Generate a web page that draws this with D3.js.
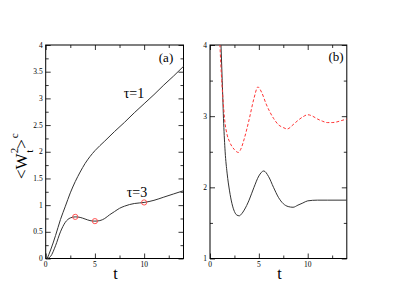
<!DOCTYPE html>
<html><head><meta charset="utf-8">
<script src="https://cdn.jsdelivr.net/npm/d3@7"></script>
<style>body{margin:0;background:#fff}svg{display:block}</style>
</head><body><svg id="c" width="393" height="304" font-family="'Liberation Serif', 'DejaVu Serif', serif"></svg>
<script>
// Panel (a)
const tA = [0.15,0.5,1,1.5,2,2.5,3,3.5,4,4.5,5,6,7,8,9,10,11,12,13,14];
const tau1 = [0,0.16,0.43,0.73,0.98,1.23,1.44,1.62,1.78,1.91,2.02,2.2,2.38,2.55,2.73,2.9,3.07,3.25,3.42,3.6];
const tA3 = [0.15,0.5,1,1.5,2,2.5,3,3.5,4,4.5,5,5.5,6,6.5,7,7.5,8,8.5,9,10,11,12,13,14];
const tau3 = [0,0.04,0.24,0.5,0.68,0.76,0.78,0.77,0.74,0.71,0.70,0.71,0.75,0.82,0.88,0.94,0.98,1.01,1.03,1.05,1.09,1.15,1.21,1.27];
const markT = [3,5,10];
const markV = [0.78,0.70,1.05];
// Panel (b)
const tB1 = [0.9,1.1,1.25,1.4,1.55,1.75,2,2.25,2.5,2.75,3,3.25,3.5,4,4.5,5,5.5,6,6.5,7,7.5,8,8.5,9,9.5,10,11,12,13,14];
const solidB = [4.9,4.1,3.5,2.9,2.5,2.2,1.95,1.77,1.66,1.61,1.60,1.63,1.68,1.82,2.0,2.16,2.23,2.15,2.0,1.86,1.77,1.73,1.72,1.75,1.78,1.81,1.82,1.82,1.82,1.82];
const tB2 = [0.85,1.0,1.1,1.2,1.35,1.5,1.75,2,2.5,2.9,3.25,3.5,4,4.5,4.9,5.3,5.75,6.5,7,7.5,7.9,8.5,9,9.5,10,10.5,11,11.5,12,12.5,13,13.5,14];
const dashB = [4.5,4.05,3.75,3.5,3.2,2.95,2.74,2.64,2.53,2.49,2.57,2.68,2.95,3.25,3.41,3.33,3.17,2.97,2.88,2.84,2.82,2.88,2.94,2.99,3.02,3.0,2.96,2.93,2.91,2.91,2.92,2.94,2.96];
const aYTicks = [0,0.5,1,1.5,2,2.5,3,3.5,4];
const aYLabels = ["0","0.5","1","1.5","2","2.5","3","3.5","4"];
const bYTicks = [1,2,3,4];
const bYLabels = ["1","2","3","4"];
const xTicks = [0,5,10];
const xLabels = ["0","5","10"];

const svg = d3.select("#c");
const plotTop = 45, plotBottom = 258.5;
const serif = "'Liberation Serif', 'DejaVu Serif', serif";

function panel(x0, x1, yDom, majorY, minorY, yLabels, id) {
  const x = d3.scaleLinear().domain([0,14]).range([x0,x1]);
  const y = d3.scaleLinear().domain(yDom).range([plotBottom, plotTop]);
  const g = svg.append("g");
  g.append("clipPath").attr("id", id).append("rect")
    .attr("x", x0).attr("y", plotTop).attr("width", x1-x0).attr("height", plotBottom-plotTop);
  g.append("rect").attr("x", x0).attr("y", plotTop).attr("width", x1-x0).attr("height", plotBottom-plotTop)
    .attr("fill","none").attr("stroke","#000").attr("stroke-width",1);
  const minorX = [2.5,7.5,12.5];
  const mk = (axis, vals, len) => axis.tickValues(vals).tickSize(len).tickFormat("");
  g.append("g").attr("transform",`translate(0,${plotBottom})`).call(mk(d3.axisTop(x), xTicks, 5));
  g.append("g").attr("transform",`translate(0,${plotBottom})`).call(mk(d3.axisTop(x), minorX, 3));
  g.append("g").attr("transform",`translate(0,${plotTop})`).call(mk(d3.axisBottom(x), xTicks, 5));
  g.append("g").attr("transform",`translate(0,${plotTop})`).call(mk(d3.axisBottom(x), minorX, 3));
  g.append("g").attr("transform",`translate(${x0},0)`).call(mk(d3.axisRight(y), majorY, 5));
  g.append("g").attr("transform",`translate(${x0},0)`).call(mk(d3.axisRight(y), minorY, 3));
  g.append("g").attr("transform",`translate(${x1},0)`).call(mk(d3.axisLeft(y), majorY, 5));
  g.append("g").attr("transform",`translate(${x1},0)`).call(mk(d3.axisLeft(y), minorY, 3));
  g.selectAll(".domain").remove();
  g.selectAll(".tick line").attr("stroke","#000").attr("stroke-width",0.8);
  g.selectAll(".xl").data(xTicks).enter().append("text")
    .attr("x", d=>x(d)).attr("y", plotBottom+8.5).attr("text-anchor","middle")
    .attr("font-family", serif).attr("font-size", 7.5).text((d,i)=>xLabels[i]);
  g.selectAll(".yl").data(majorY).enter().append("text")
    .attr("x", x0-3).attr("y", d=>y(d)+2.5).attr("text-anchor","end")
    .attr("font-family", serif).attr("font-size", 7.5).text((d,i)=>yLabels[i]);
  g.append("text").attr("x",(x0+x1)/2+1).attr("y",279).attr("text-anchor","middle")
    .attr("font-family", serif).attr("font-size",16).text("t");
  return {x, y, g};
}

const A = panel(45.7, 183.5, [0,4], aYTicks, [0.25,0.75,1.25,1.75,2.25,2.75,3.25,3.75], aYLabels, "clipA");
const B = panel(210, 346.8, [1,4], bYTicks, [1.5,2.5,3.5], bYLabels, "clipB");

const lineA = d3.line().x(d=>A.x(d[0])).y(d=>A.y(d[1])).curve(d3.curveMonotoneX);
A.g.append("path").attr("d", lineA(tA.map((t,i)=>[t,tau1[i]])))
  .attr("fill","none").attr("stroke","#333").attr("stroke-width",1);
A.g.append("path").attr("d", lineA(tA3.map((t,i)=>[t,tau3[i]])))
  .attr("fill","none").attr("stroke","#333").attr("stroke-width",1);
A.g.selectAll(".m").data(markT).enter().append("circle")
  .attr("cx", d=>A.x(d)).attr("cy",(d,i)=>A.y(markV[i])).attr("r",2.6)
  .attr("fill","none").attr("stroke","#f44").attr("stroke-width",0.9);
const lab = (g, x, y, s, t) => g.append("text").attr("x",x).attr("y",y).attr("text-anchor","middle")
  .attr("font-family", serif).attr("font-size",s).text(t);
lab(A.g, 166, 62, 13, "(a)");
lab(A.g, 134, 98, 14, "τ=1");
lab(A.g, 137, 197, 14, "τ=3");

const lineB = d3.line().x(d=>B.x(d[0])).y(d=>B.y(d[1])).curve(d3.curveMonotoneX);
B.g.append("path").attr("clip-path","url(#clipB)").attr("d", lineB(tB1.map((t,i)=>[t,solidB[i]])))
  .attr("fill","none").attr("stroke","#333").attr("stroke-width",1);
B.g.append("path").attr("clip-path","url(#clipB)").attr("d", lineB(tB2.map((t,i)=>[t,dashB[i]])))
  .attr("fill","none").attr("stroke","#f33").attr("stroke-width",1).attr("stroke-dasharray","3,2");
lab(B.g, 336, 61, 13, "(b)");

const yl = svg.append("text").attr("transform","translate(27,179) rotate(-90)")
  .attr("font-family", serif).attr("font-size",17);
yl.append("tspan").text("<W");
yl.append("tspan").attr("font-size",11).attr("dy",-9).text("2");
yl.append("tspan").attr("font-size",11).attr("dx",-5).attr("dy",15).text("t");
yl.append("tspan").attr("dx",1).attr("dy",-6).text(">");
yl.append("tspan").attr("font-size",11).attr("dx",1).attr("dy",-9).text("c");
</script></body></html>
